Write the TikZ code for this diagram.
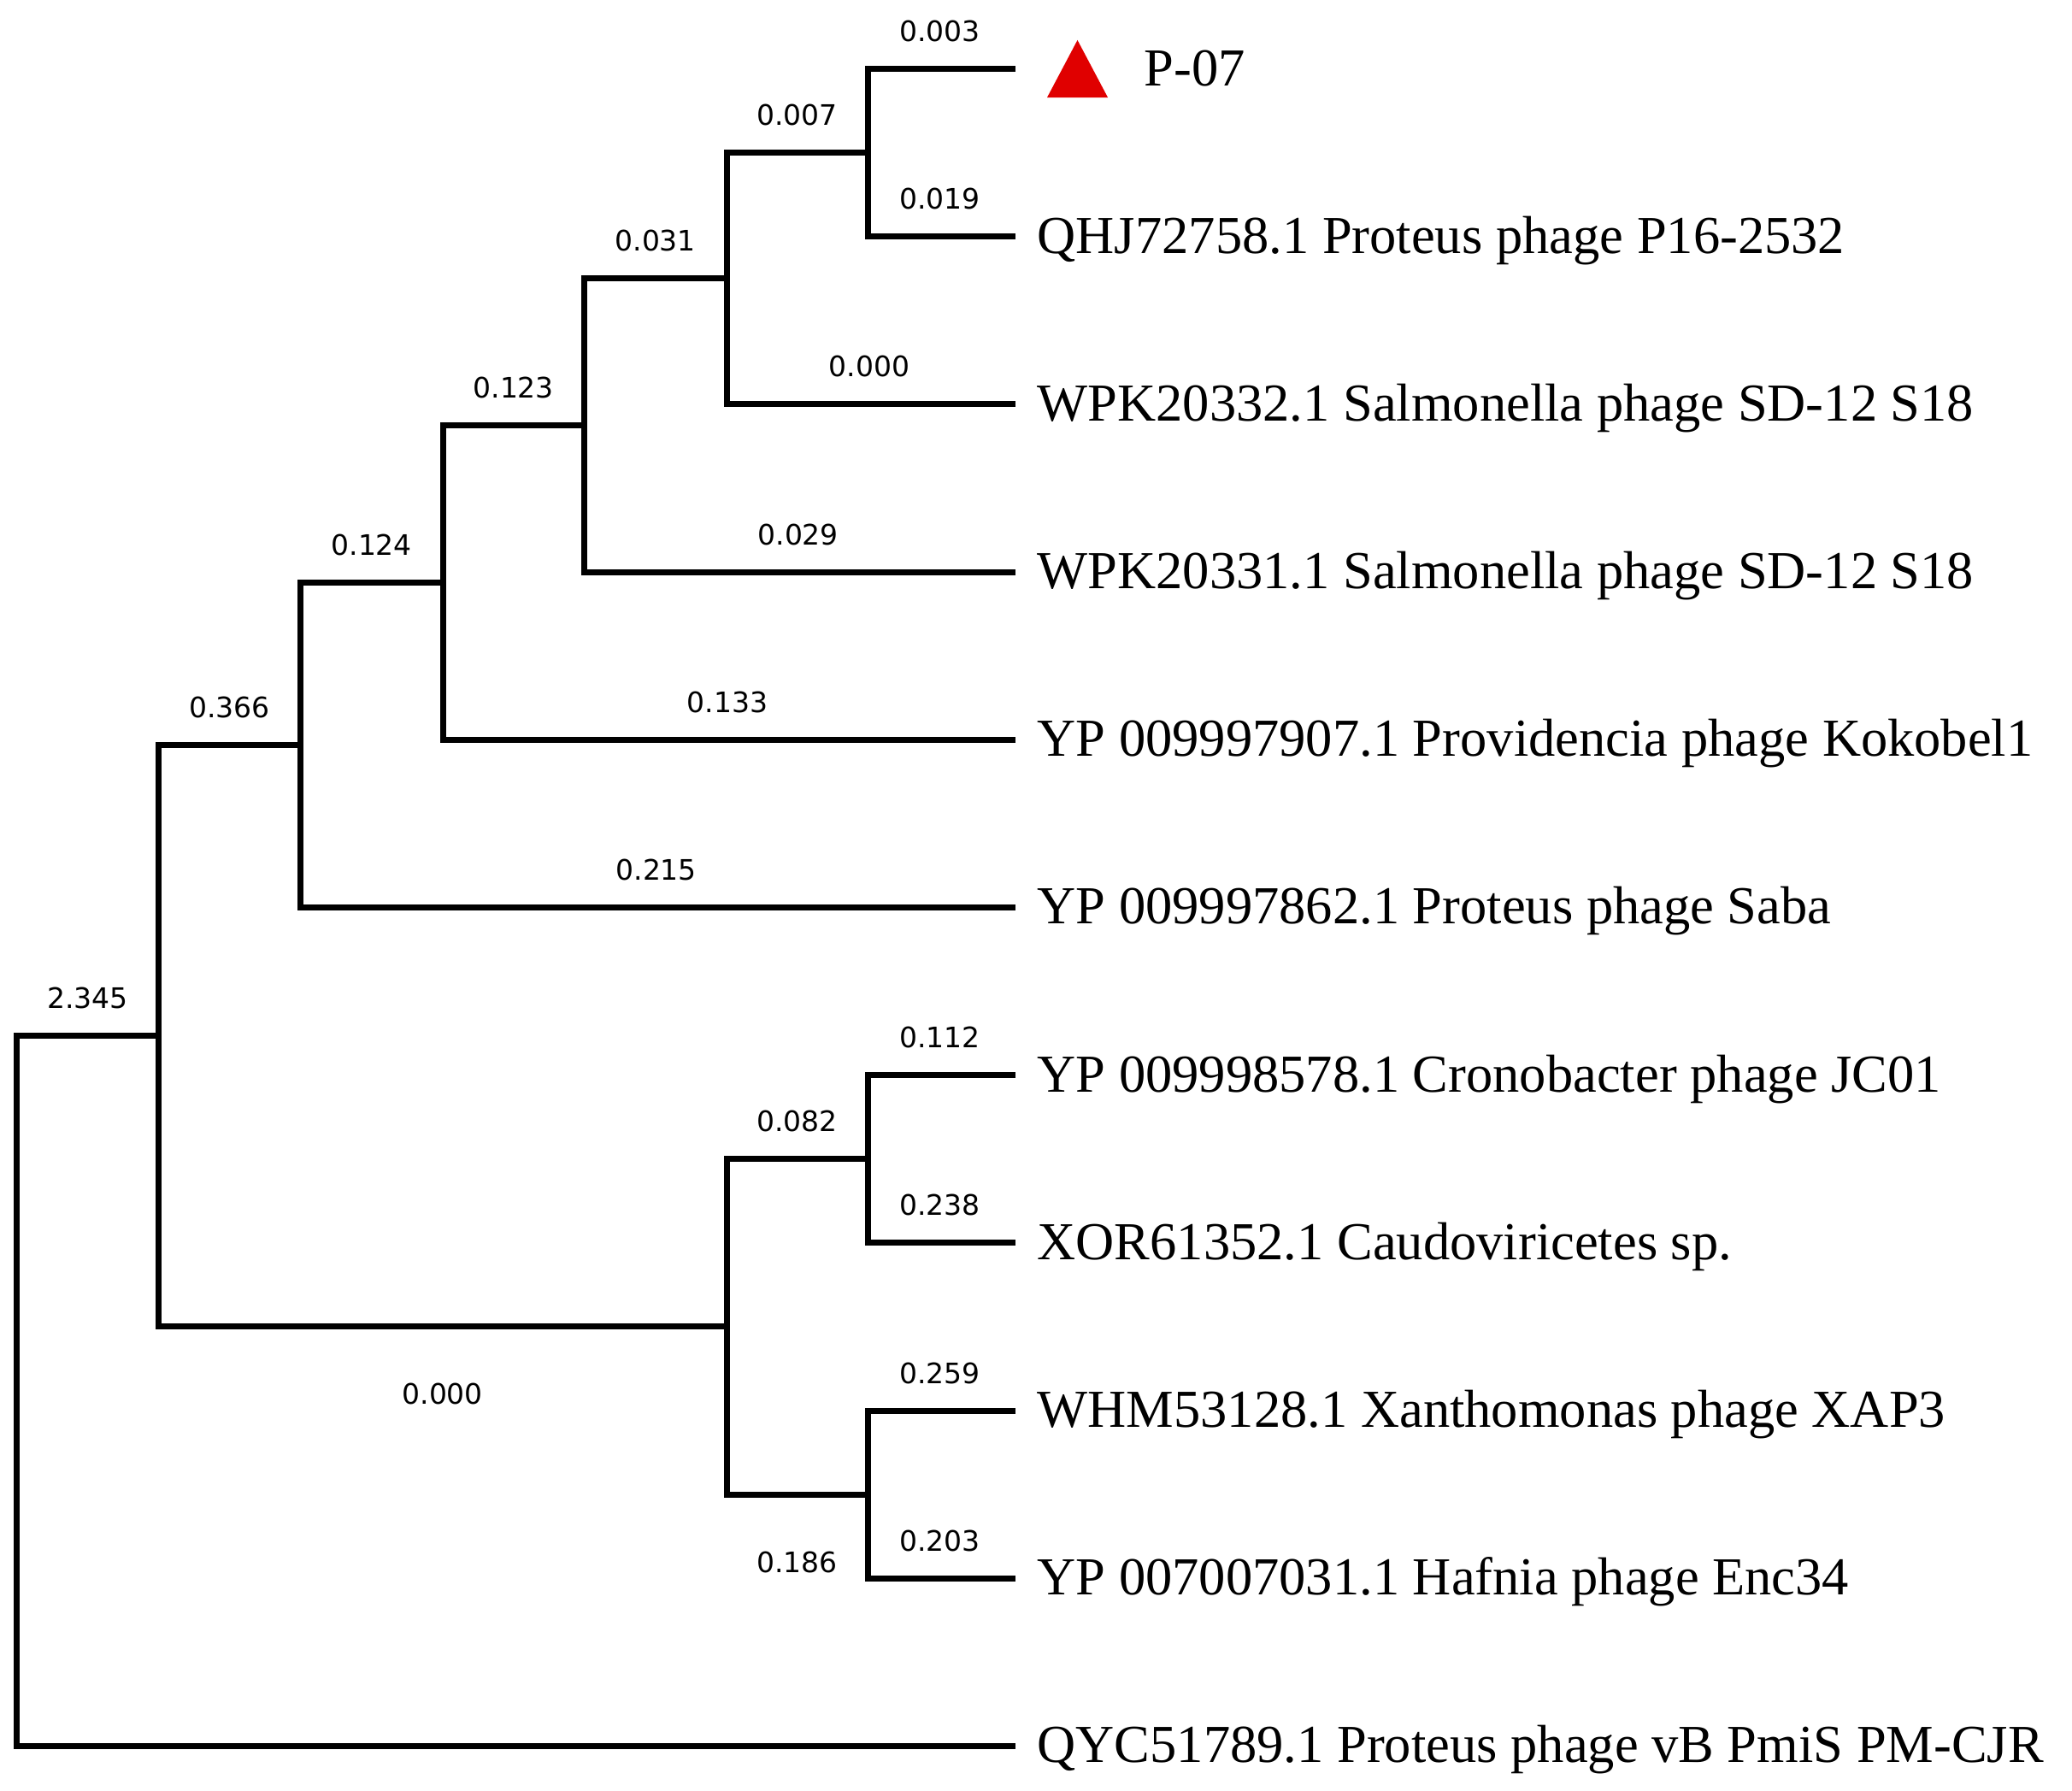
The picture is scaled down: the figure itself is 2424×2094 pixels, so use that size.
\documentclass[tikz,border=0pt]{standalone}
\usepackage{fontspec}
\usetikzlibrary{calc}
\setmainfont{Liberation Serif}
\newfontfamily\numfont{DejaVu Sans}
\definecolor{markred}{RGB}{224,0,0}
\begin{document}
\begin{tikzpicture}[x=1pt,y=-1pt,
  branch/.style={line width=7pt, line cap=rect, line join=miter},
  leaflabel/.style={anchor=base west, inner sep=0pt, font=\fontsize{62.5}{70}\selectfont},
  blen/.style={inner sep=0pt, font=\numfont\fontsize{33}{36}\selectfont},
  above len/.style={blen, midway, yshift=44pt},
  below len/.style={blen, midway, yshift=-79pt}]
\useasboundingbox (0,0) rectangle (2424,2094);
% leaves
\coordinate (L1) at (1184,80.4);
\coordinate (L2) at (1184,276.6);
\coordinate (L3) at (1184,472.8);
\coordinate (L4) at (1184,669.0);
\coordinate (L5) at (1184,865.2);
\coordinate (L6) at (1184,1061.4);
\coordinate (L7) at (1184,1257.6);
\coordinate (L8) at (1184,1453.8);
\coordinate (L9) at (1184,1650.0);
\coordinate (L10) at (1184,1846.2);
\coordinate (L11) at (1184,2042.4);
% internal nodes
\coordinate (n7) at (1015,178.5);
\coordinate (n6) at (850,325.65);
\coordinate (n5) at (683.5,497.3);
\coordinate (n4) at (518,681.25);
\coordinate (n3) at (351.5,871.3);
\coordinate (m2) at (1015,1355.7);
\coordinate (m3) at (1015,1748.1);
\coordinate (m1) at (850,1551.9);
\coordinate (n2) at (185.5,1211.6);
\coordinate (root) at (19.5,1211.6);
% branches: vertical bars
\draw[branch] (L1 -| n7) -- (L2 -| n7);
\draw[branch] (n7 -| n6) -- (L3 -| n6);
\draw[branch] (n6 -| n5) -- (L4 -| n5);
\draw[branch] (n5 -| n4) -- (L5 -| n4);
\draw[branch] (n4 -| n3) -- (L6 -| n3);
\draw[branch] (L7 -| m2) -- (L8 -| m2);
\draw[branch] (L9 -| m3) -- (L10 -| m3);
\draw[branch] (m2 -| m1) -- (m3 -| m1);
\draw[branch] (n3 -| n2) -- (m1 -| n2);
\draw[branch] (n2 -| root) -- (L11 -| root);
% horizontal branches with lengths
\path[draw,branch] (L1 -| n7) -- (L1) node[above len]{0.003};
\path[draw,branch] (L2 -| n7) -- (L2) node[above len]{0.019};
\path[draw,branch] (n7 -| n6) -- (n7) node[above len]{0.007};
\path[draw,branch] (L3 -| n6) -- (L3) node[above len]{0.000};
\path[draw,branch] (n6 -| n5) -- (n6) node[above len]{0.031};
\path[draw,branch] (L4 -| n5) -- (L4) node[above len]{0.029};
\path[draw,branch] (n5 -| n4) -- (n5) node[above len]{0.123};
\path[draw,branch] (L5 -| n4) -- (L5) node[above len]{0.133};
\path[draw,branch] (n4 -| n3) -- (n4) node[above len]{0.124};
\path[draw,branch] (L6 -| n3) -- (L6) node[above len]{0.215};
\path[draw,branch] (n3 -| n2) -- (n3) node[above len]{0.366};
\path[draw,branch] (L7 -| m2) -- (L7) node[above len]{0.112};
\path[draw,branch] (L8 -| m2) -- (L8) node[above len]{0.238};
\path[draw,branch] (L9 -| m3) -- (L9) node[above len]{0.259};
\path[draw,branch] (L10 -| m3) -- (L10) node[above len]{0.203};
\path[draw,branch] (m2 -| m1) -- (m2) node[above len]{0.082};
\path[draw,branch] (m3 -| m1) -- (m3) node[below len]{0.186};
\path[draw,branch] (m1 -| n2) -- (m1) node[below len]{0.000};
\path[draw,branch] (n2 -| root) -- (n2) node[above len]{2.345};
\path[draw,branch] (L11 -| root) -- (L11);
% marker and labels
\fill[markred] ($(L1)+(41,33.6)$) -- ($(L1)+(112,33.6)$) -- ($(L1)+(76.5,-33.5)$) -- cycle;
\node[leaflabel] (t1) at ($(L1)+(154.5,20)$) {P-07};
\node[leaflabel] (t2) at ($(L2)+(29.5,19.5)$) {QHJ72758.1 Proteus phage P16-2532};
\node[leaflabel] (t3) at ($(L3)+(29.5,19.5)$) {WPK20332.1 Salmonella phage SD-12 S18};
\node[leaflabel] (t4) at ($(L4)+(29.5,19.5)$) {WPK20331.1 Salmonella phage SD-12 S18};
\node[leaflabel] (t5) at ($(L5)+(29.5,19.5)$) {YP 009997907.1 Providencia phage Kokobel1};
\node[leaflabel] (t6) at ($(L6)+(29.5,19.5)$) {YP 009997862.1 Proteus phage Saba};
\node[leaflabel] (t7) at ($(L7)+(29.5,19.5)$) {YP 009998578.1 Cronobacter phage JC01};
\node[leaflabel] (t8) at ($(L8)+(29.5,19.5)$) {XOR61352.1 Caudoviricetes sp.};
\node[leaflabel] (t9) at ($(L9)+(29.5,19.5)$) {WHM53128.1 Xanthomonas phage XAP3};
\node[leaflabel] (t10) at ($(L10)+(29.5,19.5)$) {YP 007007031.1 Hafnia phage Enc34};
\node[leaflabel] (t11) at ($(L11)+(29.5,19.5)$) {QYC51789.1 Proteus phage vB PmiS PM-CJR};
\end{tikzpicture}
\end{document}
